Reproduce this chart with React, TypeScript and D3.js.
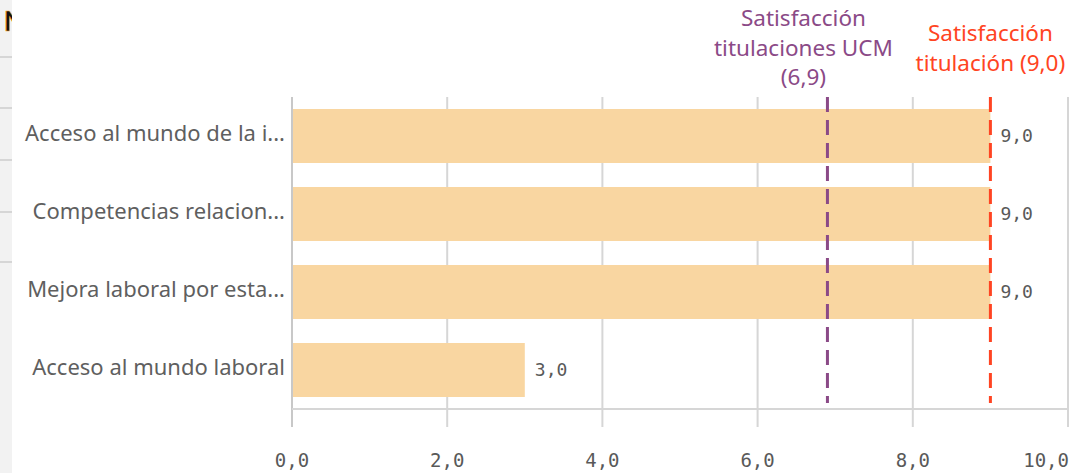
import React, { useEffect, useRef } from "react";
import * as d3 from "d3";

const categories = [
  "Acceso al mundo de la i...",
  "Competencias relacion...",
  "Mejora laboral por esta...",
  "Acceso al mundo laboral",
];
const values = [9.0, 9.0, 9.0, 3.0];
const xTicks = [0, 2, 4, 6, 8, 10];
const refLines = [
  { value: 6.9, lines: ["Satisfacción", "titulaciones UCM", "(6,9)"], color: "#8b4a87" },
  { value: 9.0, lines: ["Satisfacción", "titulación (9,0)"], color: "#ff4422" },
];
const sidebarRows = [57, 108, 160, 212, 262];

const W = 1084;
const H = 473;
const fmt = (v: number) => v.toFixed(1).replace(".", ",");

export default function App() {
  const ref = useRef<SVGSVGElement>(null);
  useEffect(() => {
    document.body.style.margin = "0";
    const svg = d3.select(ref.current);
    svg.selectAll("*").remove();

    const left = 292, right = 1068, top = 97, bottom = 409;
    const x = d3.scaleLinear().domain([0, 10]).range([left, right]);
    const y = d3
      .scaleBand<string>()
      .domain(categories)
      .range([top, bottom])
      .paddingInner(0.3077)
      .paddingOuter(0.1538);

    // sidebar artifact
    svg.append("rect").attr("x", 0).attr("y", 0).attr("width", 12).attr("height", H).attr("fill", "#f2f2f2");
    sidebarRows.forEach((r) =>
      svg.append("line").attr("x1", 0).attr("x2", 12).attr("y1", r).attr("y2", r).attr("stroke", "#d6d6d6").attr("stroke-width", 2)
    );
    svg.append("defs").append("clipPath").attr("id", "sbclip").append("rect").attr("x", 0).attr("y", 0).attr("width", 12).attr("height", 50);
    svg.append("text").attr("x", 4).attr("y", 31).attr("clip-path", "url(#sbclip)")
      .attr("font-family", "Roboto, sans-serif").attr("font-size", 28).attr("font-weight", 500)
      .attr("fill", "#111").attr("stroke", "#f5a623").attr("stroke-width", 0.6).text("N");

    // gridlines
    const g = svg.append("g");
    xTicks.forEach((t) => {
      g.append("line").attr("x1", x(t)).attr("x2", x(t)).attr("y1", top).attr("y2", bottom + 18)
        .attr("stroke", t === 0 ? "#c8c8c8" : "#d6d6d6").attr("stroke-width", 2);
      g.append("text").attr("x", x(t) + (t === 10 ? 1 : 0)).attr("y", 467)
        .attr("text-anchor", t === 10 ? "end" : "middle")
        .attr("font-family", "'DejaVu Sans Mono', monospace").attr("font-size", 19)
        .attr("fill", "#595959").text(fmt(t));
    });
    g.append("line").attr("x1", left).attr("x2", right + 1).attr("y1", bottom).attr("y2", bottom)
      .attr("stroke", "#d6d6d6").attr("stroke-width", 2);

    // bars
    categories.forEach((c, i) => {
      const yy = y(c)!;
      svg.append("rect").attr("x", x(0) + 1).attr("y", yy).attr("width", x(values[i]) - x(0) - 1)
        .attr("height", y.bandwidth()).attr("fill", "#f9d6a1");
      svg.append("text").attr("x", x(values[i]) + 10).attr("y", yy + y.bandwidth() / 2 + 6)
        .attr("font-family", "'DejaVu Sans Mono', monospace").attr("font-size", 18)
        .attr("fill", "#595959").text(fmt(values[i]));
      svg.append("text").attr("x", 285).attr("y", yy + y.bandwidth() / 2 + 5)
        .attr("text-anchor", "end")
        .attr("font-family", "'Noto Sans', sans-serif").attr("font-size", 22)
        .attr("fill", "#5f5f5f").text(c);
    });

    // reference lines
    refLines.forEach((r, k) => {
      const xv = x(r.value);
      svg.append("line").attr("x1", xv).attr("x2", xv).attr("y1", top).attr("y2", bottom - 6)
        .attr("stroke", r.color).attr("stroke-width", 3).attr("stroke-dasharray", "15 8");
      const cx = k === 0 ? xv - 24 : xv;
      const y0 = k === 0 ? 26 : 41;
      r.lines.forEach((ln, j) => {
        svg.append("text").attr("x", cx).attr("y", y0 + j * 29.5).attr("text-anchor", "middle")
          .attr("font-family", "'Noto Sans', sans-serif").attr("font-size", 22.5)
          .attr("fill", r.color).text(ln);
      });
    });
  }, []);
  return (
    <div style={{ position: "absolute", left: 0, top: 0 }}>
      <svg ref={ref} width={W} height={H} style={{ display: "block", background: "#fff" }} />
    </div>
  );
}
